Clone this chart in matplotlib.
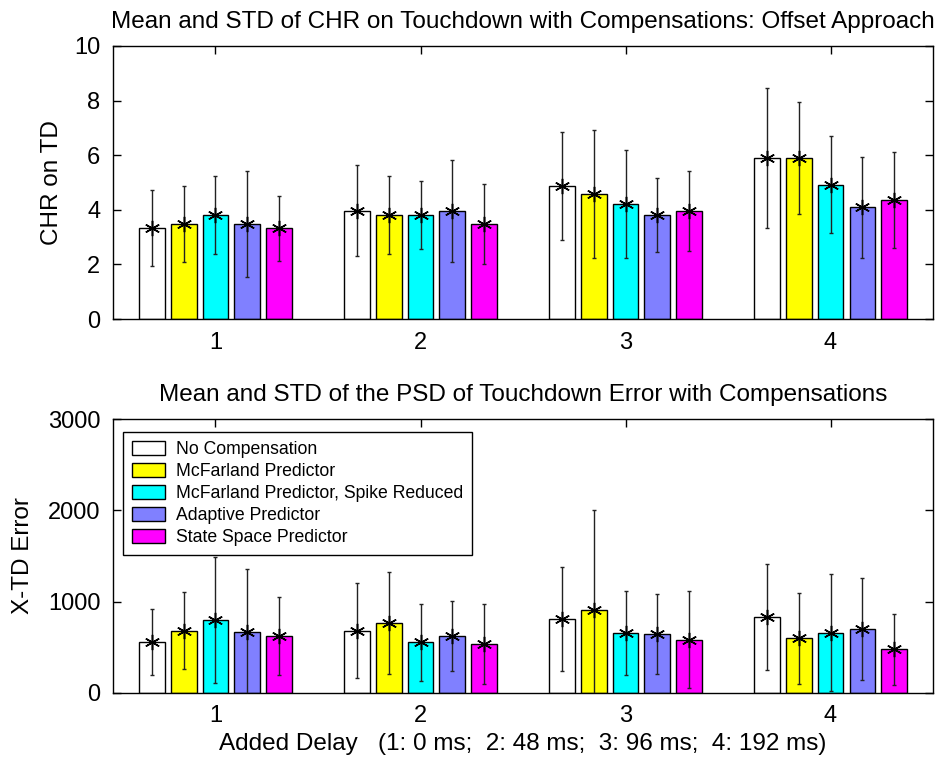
import numpy as np
import matplotlib
matplotlib.use("Agg")
import matplotlib.pyplot as plt

plt.rcParams["font.family"] = ["Liberation Sans", "DejaVu Sans"]

delays = [1, 2, 3, 4]
series_names = [
    "No Compensation",
    "McFarland Predictor",
    "McFarland Predictor, Spike Reduced",
    "Adaptive Predictor",
    "State Space Predictor",
]
series_colors = ["#FFFFFF", "#FFFF00", "#00FFFF", "#8080FF", "#FF00FF"]

# CHR on touchdown, mean and std for each predictor across the 4 delays
chr_mean = [
    [3.33, 3.96, 4.86, 5.90],
    [3.48, 3.82, 4.58, 5.90],
    [3.82, 3.82, 4.22, 4.92],
    [3.48, 3.96, 3.82, 4.09],
    [3.33, 3.48, 3.96, 4.37],
]
chr_std = [
    [1.38, 1.67, 1.98, 2.57],
    [1.39, 1.43, 2.33, 2.05],
    [1.43, 1.25, 1.98, 1.77],
    [1.95, 1.88, 1.35, 1.85],
    [1.19, 1.46, 1.46, 1.76],
]

# PSD of the touchdown error (X-TD)
psd_mean = [
    [556, 684, 807, 829],
    [684, 764, 909, 600],
    [800, 556, 662, 662],
    [665, 622, 644, 702],
    [622, 535, 582, 480],
]
psd_std = [
    [360, 525, 570, 580],
    [420, 560, 1095, 500],
    [690, 420, 460, 640],
    [690, 380, 440, 557],
    [430, 435, 530, 390],
]

offsets = [-0.31, -0.155, 0.0, 0.155, 0.31]
bar_w = 0.125
FS = 17.5
TICK_FS = 17

fig = plt.figure(figsize=(9.4, 7.61), dpi=100)
ax1 = fig.add_axes([0.1202, 0.5808, 0.8724, 0.3588])
ax2 = fig.add_axes([0.1202, 0.0894, 0.8724, 0.3600])


def grouped_bars(ax, means, stds):
    x = np.array(delays, dtype=float)
    handles = []
    for k in range(len(series_names)):
        xs = x + offsets[k]
        h = ax.bar(xs, means[k], width=bar_w, color=series_colors[k],
                   edgecolor="black", linewidth=1.0, label=series_names[k],
                   zorder=2)
        handles.append(h)
        ax.errorbar(xs, means[k], yerr=stds[k], fmt="none", ecolor="#222222",
                    elinewidth=1.0, capsize=1.5, capthick=1.0, zorder=3)
        ax.plot(xs, means[k], linestyle="none", marker=(6, 2, 0),
                markersize=11, color="black", markeredgewidth=1.1, zorder=4)
    ax.set_xlim(0.5, 4.5)
    ax.set_xticks(delays)
    ax.tick_params(direction="in", length=6, width=1, labelsize=TICK_FS,
                   top=True, right=True, pad=9)
    for s in ax.spines.values():
        s.set_linewidth(1.0)
    return handles


grouped_bars(ax1, chr_mean, chr_std)
ax1.set_ylim(0, 10)
ax1.set_yticks([0, 2, 4, 6, 8, 10])
ax1.set_ylabel("CHR on TD", fontsize=FS, labelpad=8)
ax1.set_title("Mean and STD of CHR on Touchdown with Compensations: Offset Approach",
              fontsize=FS, pad=13)

handles = grouped_bars(ax2, psd_mean, psd_std)
ax2.set_ylim(0, 3000)
ax2.set_yticks([0, 1000, 2000, 3000])
ax2.set_ylabel("X-TD Error", fontsize=FS, labelpad=10)
ax2.set_xlabel("Added Delay   (1: 0 ms;  2: 48 ms;  3: 96 ms;  4: 192 ms)",
               fontsize=FS, labelpad=4)
ax2.set_title("Mean and STD of the PSD of Touchdown Error with Compensations",
              fontsize=FS, pad=13)

leg = ax2.legend(handles=handles, loc="upper left",
                 bbox_to_anchor=(0.0122, 0.9526), borderaxespad=0,
                 fontsize=12.7, fancybox=False, framealpha=1,
                 edgecolor="black", handlelength=1.9, handleheight=0.9,
                 handletextpad=0.6, labelspacing=0.26, borderpad=0.5)
leg.get_frame().set_linewidth(1.0)

fig.savefig("out.png", dpi=100)
